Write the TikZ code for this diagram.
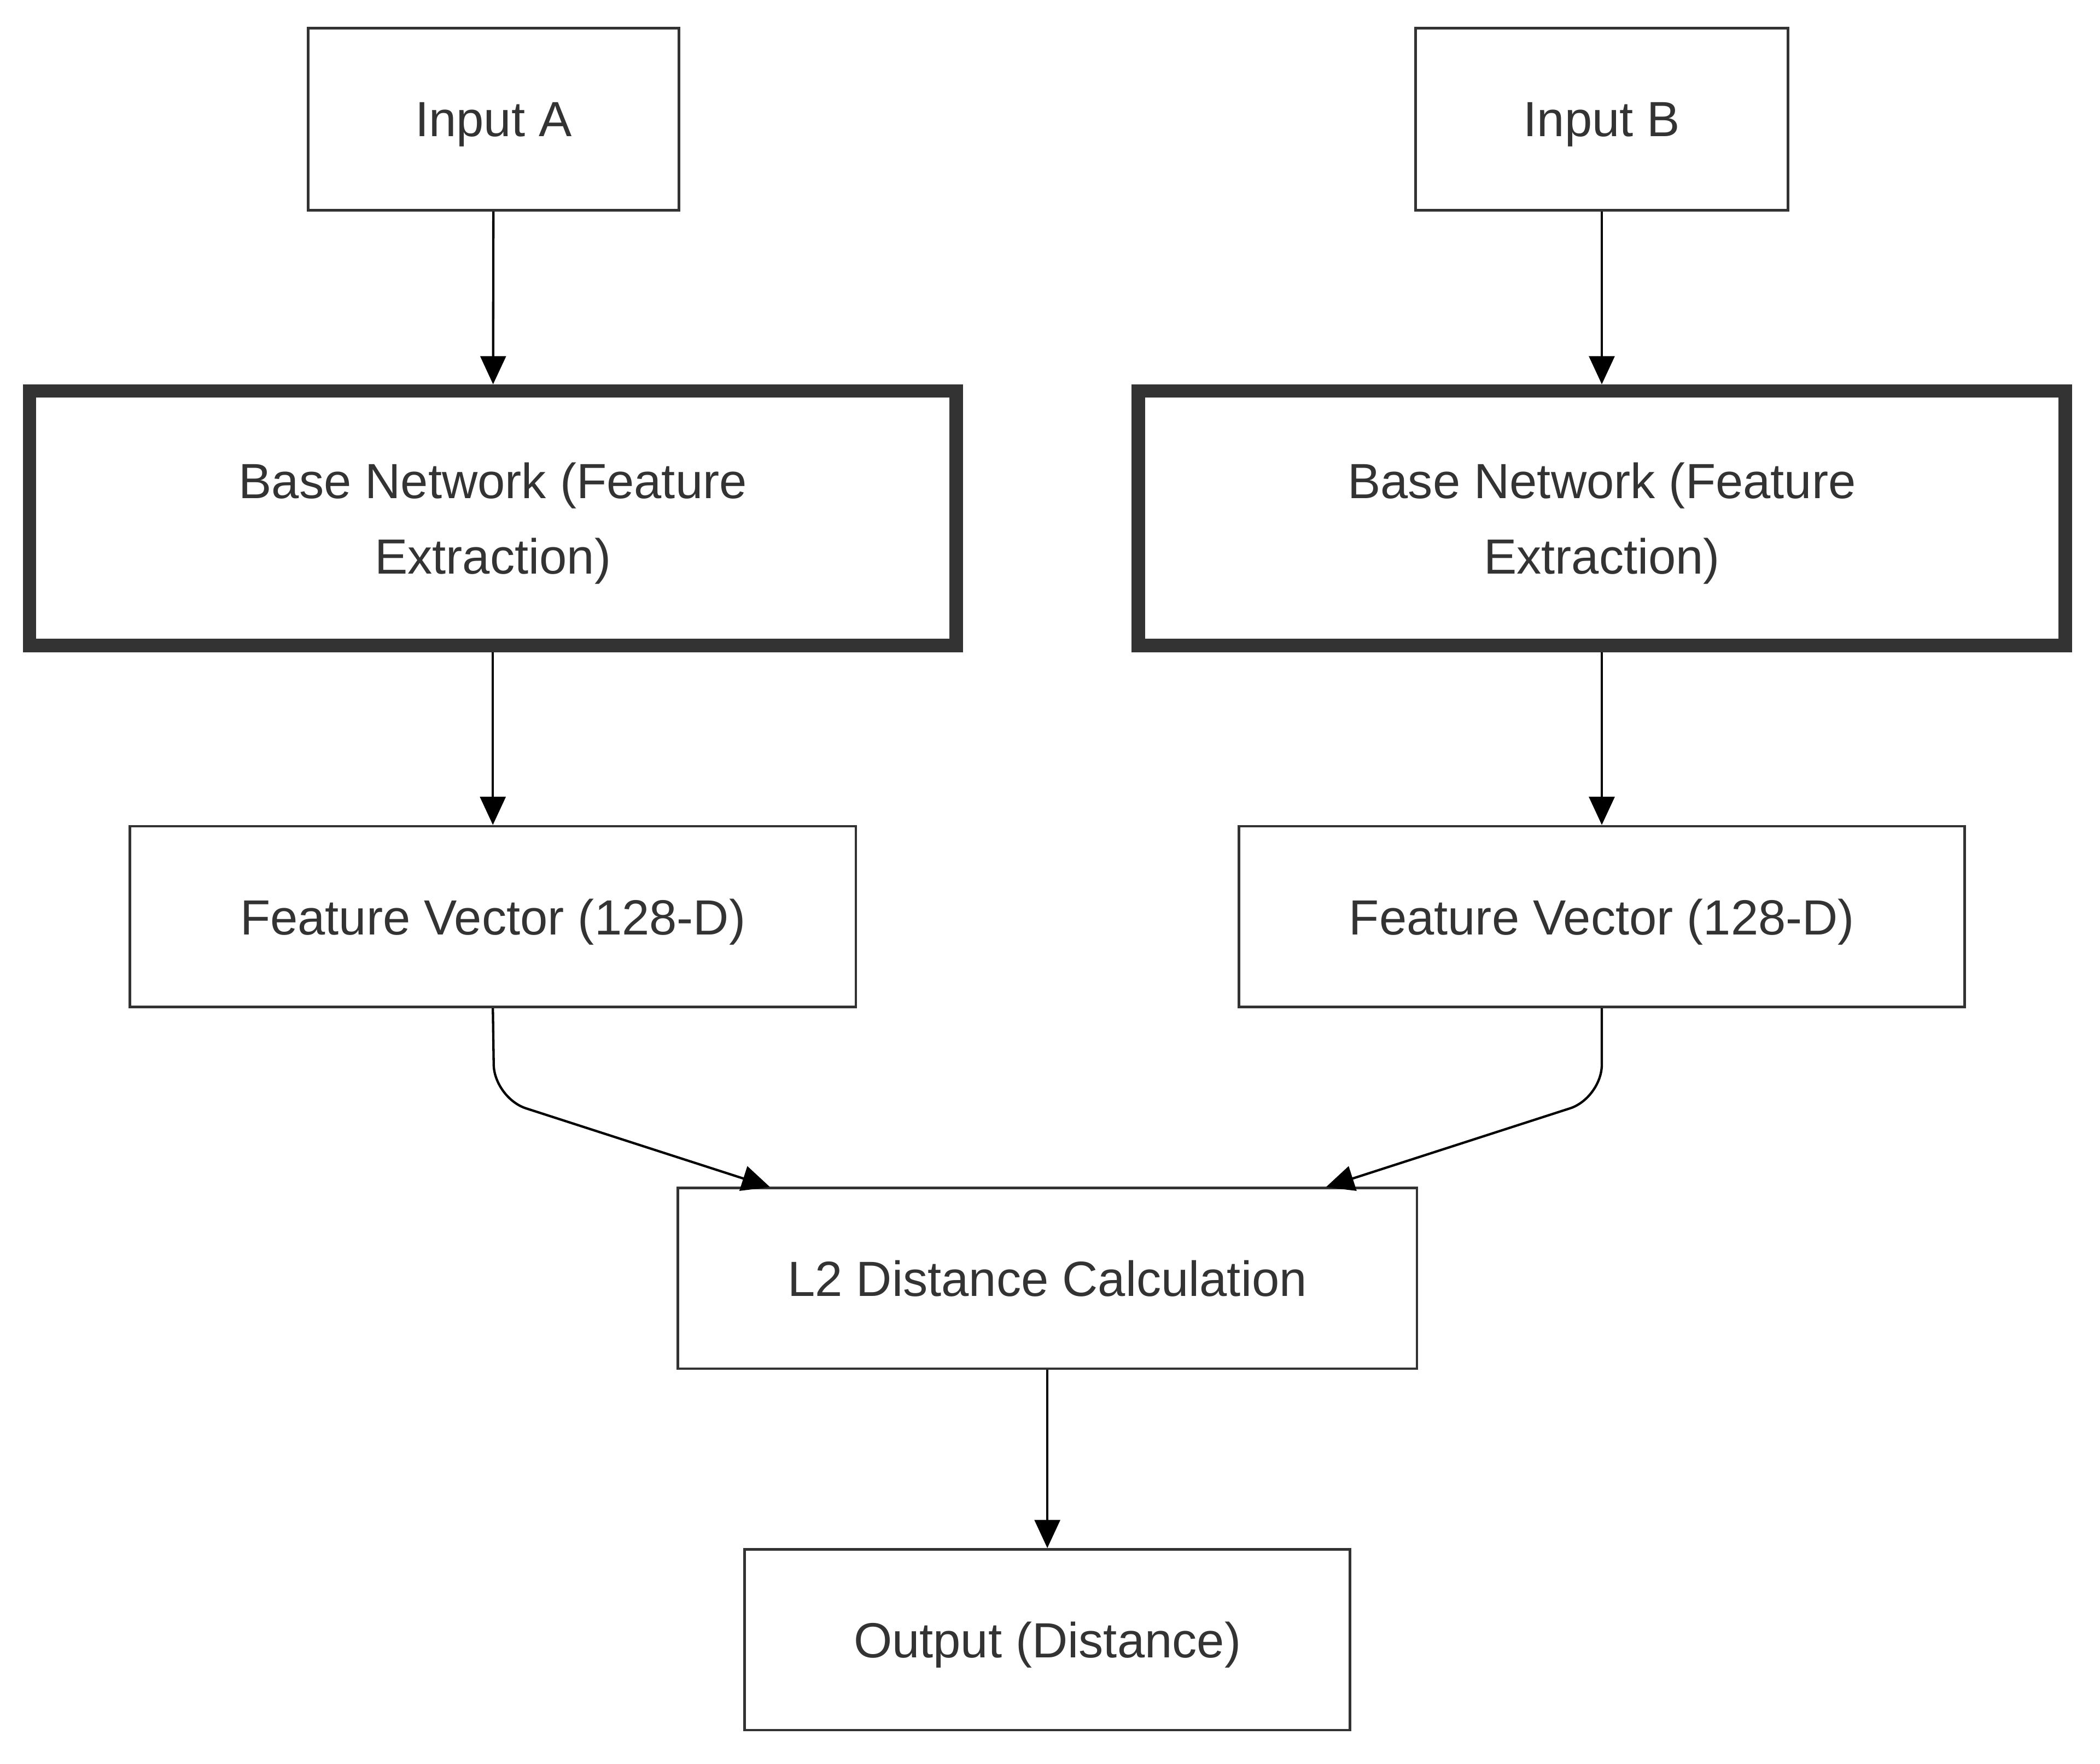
\documentclass[tikz,border=0pt]{standalone}
\usepackage{fontspec}
\setmainfont{Liberation Sans}
\usepackage{xcolor}
\usepackage{tikz}
\usetikzlibrary{arrows.meta}
\definecolor{boxgray}{HTML}{333333}

\begin{document}
\begin{tikzpicture}[>={Triangle[length=0.21cm,width=0.19cm]},
box/.style={draw=boxgray,line width=0.55pt,fill=white,text=boxgray,font=\fontsize{10.5}{16}\selectfont,inner sep=0pt,text depth=0pt,minimum height=1.35cm,align=center},
basebox/.style={box,line width=2.85pt,minimum width=6.92cm,minimum height=1.9cm},
link/.style={->,line width=0.5pt,black}]
\useasboundingbox(0,0)rectangle(15.68,-13.17);
\node[box,minimum width=2.77cm,minimum height=1.36cm](inA)at(3.685,-0.89){Input A};
\node[box,minimum width=2.78cm,minimum height=1.36cm](inB)at(11.96,-0.89){Input B};
\node[basebox](baseA)at(3.68,-3.87){Base Network (Feature\\Extraction)};
\node[basebox](baseB)at(11.96,-3.87){Base Network (Feature\\Extraction)};
\node[box,minimum width=5.42cm](vecA)at(3.68,-6.845){Feature Vector (128-D)};
\node[box,minimum width=5.42cm](vecB)at(11.96,-6.845){Feature Vector (128-D)};
\node[box,minimum width=5.52cm](dist)at(7.82,-9.545){L2 Distance Calculation};
\node[box,minimum width=4.52cm](out)at(7.82,-12.245){Output (Distance)};
\coordinate(bendA)at(3.69,-8.2);
\coordinate(bendB)at(11.96,-8.2);
\coordinate(distA)at(5.75,-8.865);
\coordinate(distB)at(9.9,-8.865);
\draw[link](inA)--(baseA);
\draw[link](inB)--(baseB);
\draw[link](baseA)--(vecA);
\draw[link](baseB)--(vecB);
\draw[link,rounded corners=0.25cm](vecA.south)--(bendA)--(distA);
\draw[link,rounded corners=0.25cm](vecB.south)--(bendB)--(distB);
\draw[link](dist)--(out);
\end{tikzpicture}
\end{document}
